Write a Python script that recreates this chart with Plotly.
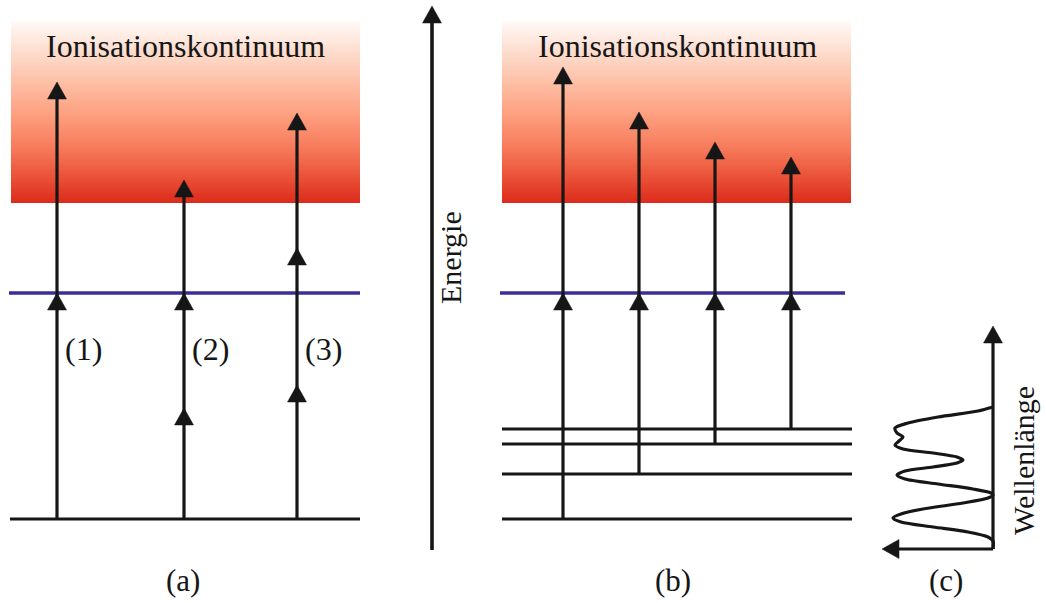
import numpy as np
import plotly.graph_objects as go

# ---- energy scheme (arbitrary energy units, canvas height = 603) ----
ground_a = 84
resonance = 310
continuum_floor = 400
continuum_ceiling = 582

# (a) three excitation paths: energies reached by each photon step (arrowhead tips)
paths_a_x = [57, 184, 297]
paths_a_steps = [
    [310, 521],
    [195, 310, 423],
    [218, 355, 490],
]
paths_a_labels = ["(1)", "(2)", "(3)"]

# (b) excitation out of four low-lying states via the resonance
levels_b = [84, 129, 159, 174]
paths_b_x = [563, 639, 715, 791]
paths_b_steps = [
    [310, 536],
    [310, 491],
    [310, 461],
    [310, 446],
]

# (c) spectrum: wavelength (along the vertical axis) vs. intensity
spec_wavelength = [142, 138, 132, 126, 121, 116, 112, 108, 104, 100, 96, 92, 89, 86,
                   82, 78, 74, 70, 65, 60, 56, 54, 51, 46, 40, 35, 31, 27, 22, 17,
                   12, 8, 0]
spec_intensity = [0, 15, 55, 85, 98, 96, 90, 94, 98, 90, 60, 36, 30, 36,
                  60, 88, 96, 88, 55, 20, 2, 0, 5, 30, 70, 92, 100, 92, 60, 25,
                  5, 0, 0]

panel_labels = ["(a)", "(b)", "(c)"]

# ---- styling / placement ----
W, H = 1046, 603
INK = "#161616"
BLUE = "#3b2f97"
FONT = "Liberation Serif, Times New Roman, serif"
LW = 3.2
HEAD_W, HEAD_H = 19, 17

span_a = (10, 360)
span_b = (502, 852)
box_a = (11, 360)
box_b = (502, 851)
blue_a = (9, 360)
blue_b = (500, 845)
energy_axis_x = 432
energy_axis = (53, 597)
spec_axis_x, spec_axis_y = 993, 54
spec_axis_top = 280
spec_axis_left = 882

fig = go.Figure()

# continuum gradient (red at the threshold fading to white at the top)
grad_stops = [(0.0, "#dc2a1c"), (0.115, "#e84a32"), (0.30, "#f67a5a"),
              (0.48, "#fd9e7e"), (0.66, "#fdbfa5"), (0.85, "#fde0d3"), (1.0, "#fffaf8")]
n_rows = 91
edges = np.linspace(continuum_floor, continuum_ceiling, n_rows + 1)
frac = (edges[:-1] + edges[1:]) / 2
frac = (frac - continuum_floor) / (continuum_ceiling - continuum_floor)
for x0, x1 in (box_a, box_b):
    fig.add_trace(go.Heatmap(
        x=[x0, x1], y=edges, z=frac.reshape(-1, 1),
        colorscale=grad_stops, zmin=0, zmax=1, zsmooth=False,
        showscale=False, hoverinfo="skip"))


def hline(x0, x1, y, color=INK, width=LW):
    fig.add_trace(go.Scatter(x=[x0, x1], y=[y, y], mode="lines",
                             line=dict(color=color, width=width),
                             hoverinfo="skip", showlegend=False))


def vline(x, y0, y1, width=LW):
    fig.add_trace(go.Scatter(x=[x, x], y=[y0, y1], mode="lines",
                             line=dict(color=INK, width=width),
                             hoverinfo="skip", showlegend=False))


heads_x, heads_y = [], []


def head_up(x, tip):
    heads_x.extend([x - HEAD_W / 2, x + HEAD_W / 2, x, x - HEAD_W / 2, None])
    heads_y.extend([tip - HEAD_H, tip - HEAD_H, tip, tip - HEAD_H, None])


def head_left(tip, y):
    heads_x.extend([tip + HEAD_H, tip + HEAD_H, tip, tip + HEAD_H, None])
    heads_y.extend([y - HEAD_W / 2, y + HEAD_W / 2, y, y - HEAD_W / 2, None])


# (a) levels and paths
hline(*span_a, ground_a)
hline(*blue_a, resonance, color=BLUE, width=3.4)
for x, steps in zip(paths_a_x, paths_a_steps):
    vline(x, ground_a, steps[-1] - HEAD_H + 2)
    for tip in steps:
        head_up(x, tip)

# (b) levels and paths
for lv in levels_b:
    hline(*span_b, lv)
hline(*blue_b, resonance, color=BLUE, width=3.4)
for x, start, steps in zip(paths_b_x, levels_b, paths_b_steps):
    vline(x, start, steps[-1] - HEAD_H + 2)
    for tip in steps:
        head_up(x, tip)

# energy axis
vline(energy_axis_x, energy_axis[0], energy_axis[1] - HEAD_H + 2, width=3.6)
head_up(energy_axis_x, energy_axis[1])

# (c) spectrum axes and curve
vline(spec_axis_x, spec_axis_y, spec_axis_top - HEAD_H - 2)
head_up(spec_axis_x, spec_axis_top - 3)
hline(spec_axis_left + HEAD_H - 2, spec_axis_x, spec_axis_y)
head_left(spec_axis_left, spec_axis_y)

fig.add_trace(go.Scatter(
    x=[spec_axis_x - v for v in spec_intensity],
    y=[spec_axis_y + w for w in spec_wavelength],
    mode="lines", line=dict(color=INK, width=LW, shape="spline", smoothing=0.8),
    hoverinfo="skip", showlegend=False))

fig.add_trace(go.Scatter(x=heads_x, y=heads_y, mode="lines", fill="toself",
                         fillcolor=INK, line=dict(color=INK, width=0.5),
                         hoverinfo="skip", showlegend=False))

# ---- text ----
def label(text, x, y, size=30, angle=0):
    fig.add_annotation(x=x, y=y, text=text, showarrow=False, textangle=angle,
                       xanchor="center", yanchor="middle",
                       font=dict(family=FONT, size=size, color=INK))


label("Ionisationskontinuum", 185, H - 46, size=32)
label("Ionisationskontinuum", 677, H - 46, size=32)
for x, t in zip(paths_a_x, paths_a_labels):
    label(t, x + 26, H - 349, size=32)
label("Energie", 450, H - 258, angle=-90)
label("Wellenlänge", 1023, H - 461, angle=-90)
for x, t in zip([183, 673, 946], panel_labels):
    label(t, x, H - 580, size=31)

fig.update_layout(
    width=W, height=H, margin=dict(l=0, r=0, t=0, b=0),
    paper_bgcolor="white", plot_bgcolor="white", showlegend=False,
    xaxis=dict(range=[0, W], visible=False, fixedrange=True),
    yaxis=dict(range=[0, H], visible=False, fixedrange=True),
)

fig.write_html("out.html")
